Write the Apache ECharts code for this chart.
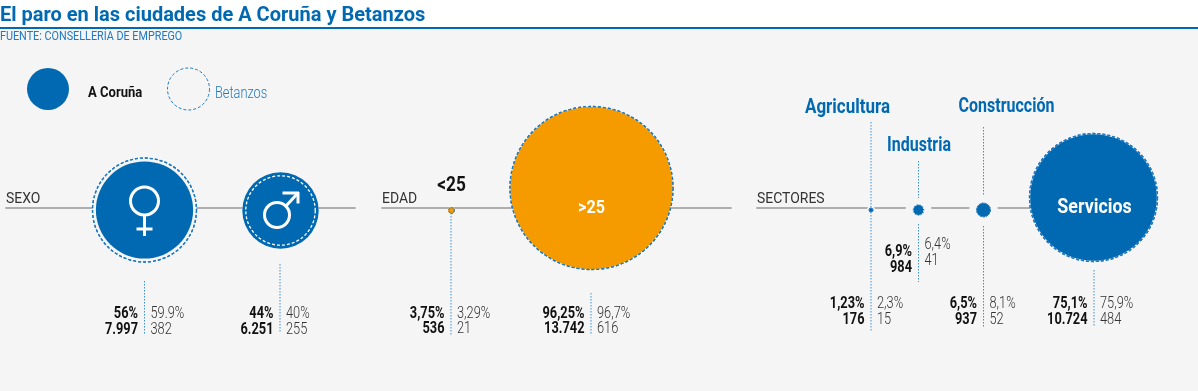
<!DOCTYPE html>
<html><head><meta charset="utf-8">
<style>html,body{margin:0;padding:0;background:#f5f5f5}#c{width:1198px;height:391px}</style>
<script src="https://cdn.jsdelivr.net/npm/echarts@6/dist/echarts.min.js"></script>
</head><body><div id="c"></div>
<script>
// ---- data ----
const titleText = 'El paro en las ciudades de A Coruña y Betanzos';
const sourceText = 'FUENTE: CONSELLERÍA DE EMPREGO';
const panels = ['SEXO', 'EDAD', 'SECTORES'];
const categories = ['Mujeres', 'Hombres', '<25', '>25', 'Agricultura', 'Industria', 'Construcción', 'Servicios'];
const categoryPanel = [0, 0, 1, 1, 2, 2, 2, 2];
const coruñaPct = ['56%', '44%', '3,75%', '96,25%', '1,23%', '6,9%', '6,5%', '75,1%'];
const betanzosPct = ['59.9%', '40%', '3,29%', '96,7%', '2,3%', '6,4%', '8,1%', '75,9%'];
const coruñaCount = [7997, 6251, 536, 13742, 176, 984, 937, 10724];
const betanzosCount = [382, 255, 21, 616, 15, 41, 52, 484];

// ---- layout and style ----
const BLUE = '#0069b1', LEAD = '#3d90d2', RING = '#1f78c0', ORANGE = '#f59b00', BG = '#f5f5f5', NARROW = 0.8;
const LINE_Y = 208;
const panelSpan = [[6, 355], [382, 731], [757, 1097]];
const slotX = [144.5, 280.5, 451.5, 591.5, 871, 918.5, 983.5, 1093.5];
const slotY = [210, 210.5, 210.5, 188, 210, 210, 210, 197.5];
const radiusPerPct = [0.868, 0.868, 0.843, 0.843, 0.843, 0.843, 0.843, 0.843];
const haloPad = [0, 0, 0, 0, 2, 7, 7.5, 0];
const fillColor = [BLUE, BLUE, ORANGE, ORANGE, BLUE, BLUE, BLUE, BLUE];
const leaderX = [144.5, 280, 451, 591, 871, 918.5, 983.5, 1094];
const leaderY = [[[281, 334]], [[264, 333]], [[213, 335]], [[293, 335]], [[122, 332]], [[161, 198], [224, 282]], [[127, 195], [226, 327]], [[270, 327]]];
const rowsLeft = [[313.5, 329.5], [313.5, 329.5], [313.5, 328.5], [313.5, 328.5], [304, 319.5], [252, 267.5], [304, 319.5], [304, 319.5]];
const rowsRight = [[313.5, 329.5], [313.5, 329.5], [313.5, 328.5], [313.5, 328.5], [304, 319.5], [245, 260.5], [304, 319.5], [304, 319.5]];

const pctNum = s => parseFloat(s.replace(',', '.'));
const thousands = n => String(n).replace(/\B(?=(\d{3})+$)/g, '.');
const toV = p => p - LINE_Y;

// text items: [panel, x, pageY, text, font, color, align, narrow]
const texts = [];
const T = (p, x, y, s, font, color, align, narrow) => texts.push([p, x, y, s, font, color, align, narrow === undefined ? NARROW : narrow]);
panels.forEach((name, i) => T(i, panelSpan[i][0], 199, name, '400 15px Roboto', '#333', 'left', 0.93));
categories.forEach((c, i) => {
  const p = categoryPanel[i], lx = leaderX[i];
  T(p, lx - 6.5, rowsLeft[i][0], coruñaPct[i], '700 16px Roboto', '#111', 'right');
  T(p, lx - 6.5, rowsLeft[i][1], thousands(coruñaCount[i]), '700 16px Roboto', '#111', 'right');
  T(p, lx + 6, rowsRight[i][0], betanzosPct[i], '300 16px Roboto', '#333', 'left');
  T(p, lx + 6, rowsRight[i][1], thousands(betanzosCount[i]), '300 16px Roboto', '#333', 'left');
});
T(1, 451.5, 186, categories[2], '700 21px Roboto', '#111', 'center', 0.82);
T(1, 591.5, 208, categories[3], '700 19px Roboto', '#fff', 'center', 0.85);
T(2, 847.5, 108, categories[4], '700 20px Roboto', BLUE, 'center', 0.85);
T(2, 919, 146, categories[5], '700 20px Roboto', BLUE, 'center', 0.8);
T(2, 1006.5, 107, categories[6], '700 20px Roboto', BLUE, 'center', 0.8);
T(2, 1094.5, 208, categories[7], '700 21px Roboto', '#fff', 'center', 0.85);

const idx = p => categories.map((_, i) => i).filter(i => categoryPanel[i] === p);
const series = [];
panels.forEach((_, p) => {
  const ids = idx(p);
  const base = { coordinateSystem: 'cartesian2d', xAxisIndex: p, yAxisIndex: p, silent: true, animation: false };
  const dot = i => [slotX[i], toV(slotY[i])];
  // background halo cuts the axis line around each mark
  series.push({ ...base, type: 'scatter', z: 2, clip: false,
    data: ids.map(i => ({ value: dot(i), symbolSize: 2 * (radiusPerPct[i] * Math.max(pctNum(coruñaPct[i]), pctNum(betanzosPct[i])) + haloPad[i]) })),
    itemStyle: { color: BG, opacity: 1 } });
  // Betanzos dashed ring sits under or over the A Coruña disc depending on which is larger
  const ring = i => {
    const a = pctNum(coruñaPct[i]), b = pctNum(betanzosPct[i]), small = b < 10;
    return { value: dot(i), symbolSize: 2 * radiusPerPct[i] * b,
      itemStyle: { color: small && b > a ? BLUE : 'rgba(0,0,0,0)', opacity: 1,
        borderColor: b < a && fillColor[i] === BLUE ? '#fff' : RING, borderWidth: small ? 1 : 1.3, borderType: small ? [2, 1] : [3, 2] } };
  };
  series.push({ ...base, type: 'scatter', z: 3, clip: false, data: ids.map(ring) });
  // A Coruña disc (drawn over a filled small ring, under a large dashed one)
  series.push({ ...base, type: 'scatter', z: 3, clip: false,
    data: ids.map(i => ({ value: dot(i), symbolSize: 2 * radiusPerPct[i] * pctNum(coruñaPct[i]), itemStyle: { color: fillColor[i], opacity: 1 } })) });
  series.push({ ...base, type: 'scatter', z: 4, clip: false,
    data: ids.map(i => { const r = ring(i); r.itemStyle.color = 'rgba(0,0,0,0)'; return r; }) });
  // leaders
  const segs = [];
  ids.forEach(i => leaderY[i].forEach(s => segs.push([leaderX[i], toV(s[0]), toV(s[1])])));
  series.push({ ...base, type: 'custom', z: 3, data: segs, clip: false,
    encode: { x: 0, y: 1 },
    renderItem: (pr, api) => {
      const a = api.coord([api.value(0), api.value(1)]), b = api.coord([api.value(0), api.value(2)]);
      return { type: 'line', shape: { x1: a[0], y1: a[1], x2: b[0], y2: b[1] }, style: { stroke: LEAD, lineWidth: 1, lineDash: [1.5, 1.5] } };
    } });
  // texts
  const items = texts.filter(t => t[0] === p);
  series.push({ ...base, type: 'custom', z: 6, clip: false,
    data: items.map((t, k) => [t[1], toV(t[2]), k]),
    encode: { x: 0, y: 1 },
    renderItem: (pr, api) => {
      const t = items[api.value(2)], c = api.coord([api.value(0), api.value(1)]);
      return { type: 'text', x: c[0], y: c[1], scaleX: t[7], z2: 10,
        style: { text: t[3], x: 0, y: 0, font: t[4], fill: t[5], align: t[6], textAlign: t[6], verticalAlign: 'middle', textVerticalAlign: 'middle' } };
    } });
});
// gender icons, anchored on the first two categories
series.push({ type: 'custom', coordinateSystem: 'cartesian2d', xAxisIndex: 0, yAxisIndex: 0, silent: true, animation: false, z: 5, clip: false,
  data: [[slotX[0], toV(slotY[0]), 0], [slotX[1], toV(slotY[1]), 1]], encode: { x: 0, y: 1 },
  renderItem: (pr, api) => {
    const c = api.coord([api.value(0), api.value(1)]), st = { stroke: '#fff', lineWidth: 3, fill: 'none' };
    const line = (x1, y1, x2, y2) => ({ type: 'line', shape: { x1: c[0] + x1, y1: c[1] + y1, x2: c[0] + x2, y2: c[1] + y2 }, style: st });
    if (api.value(2) === 0) return { type: 'group', children: [
      { type: 'circle', shape: { cx: c[0], cy: c[1] - 9, r: 14 }, style: st },
      line(0, 5, 0, 26), line(-8, 19, 8, 19) ] };
    return { type: 'group', children: [
      { type: 'circle', shape: { cx: c[0] - 3.5, cy: c[1] + 4.5, r: 12.5 }, style: st },
      line(5.5, -4.5, 16.5, -16.5), line(2, -17.5, 18.5, -17.5), line(17.5, -18.5, 17.5, -7) ] };
  } });

const option = {
  backgroundColor: BG,
  animation: false,
  grid: panels.map((_, i) => ({ left: panelSpan[i][0], width: panelSpan[i][1] - panelSpan[i][0], top: 0, height: 391 })),
  xAxis: panels.map((_, i) => ({ type: 'value', gridIndex: i, min: panelSpan[i][0], max: panelSpan[i][1],
    axisLine: { show: true, onZero: true, lineStyle: { color: '#aeaeae', width: 2 } },
    axisTick: { show: false }, axisLabel: { show: false }, splitLine: { show: false } })),
  yAxis: panels.map((_, i) => ({ type: 'value', gridIndex: i, min: -LINE_Y, max: 391 - LINE_Y, inverse: true, show: false, splitLine: { show: false } })),
  series,
  graphic: [
    { type: 'rect', z: -1, shape: { x: 0, y: 0, width: 1198, height: 28 }, style: { fill: '#fff' } },
    { type: 'rect', z: 1, shape: { x: 0, y: 27, width: 1198, height: 2 }, style: { fill: BLUE } },
    { type: 'text', x: 0, y: 16, z: 5, style: { text: titleText, font: '700 20px Roboto', fill: BLUE, textAlign: 'left', textVerticalAlign: 'middle' } },
    { type: 'text', x: 0, y: 36.5, scaleX: 0.9, z: 5, style: { text: sourceText, font: '400 12px Roboto', fill: '#1f78c0', textAlign: 'left', textVerticalAlign: 'middle' } },
    { type: 'circle', z: 5, shape: { cx: 48, cy: 89, r: 21 }, style: { fill: BLUE } },
    { type: 'circle', z: 5, shape: { cx: 188.5, cy: 89, r: 21 }, style: { fill: 'none', stroke: RING, lineWidth: 1, lineDash: [3, 2] } },
    { type: 'text', x: 88, y: 93.5, scaleX: 0.87, z: 5, style: { text: 'A Coruña', font: '700 15px Roboto', fill: '#111', textAlign: 'left', textVerticalAlign: 'middle' } },
    { type: 'text', x: 215, y: 93.5, scaleX: 0.8, z: 5, style: { text: 'Betanzos', font: '300 16px Roboto', fill: RING, textAlign: 'left', textVerticalAlign: 'middle' } }
  ]
};
const chart = echarts.init(document.getElementById('c'), null, { renderer: 'canvas' });
chart.setOption(option);
</script></body></html>
